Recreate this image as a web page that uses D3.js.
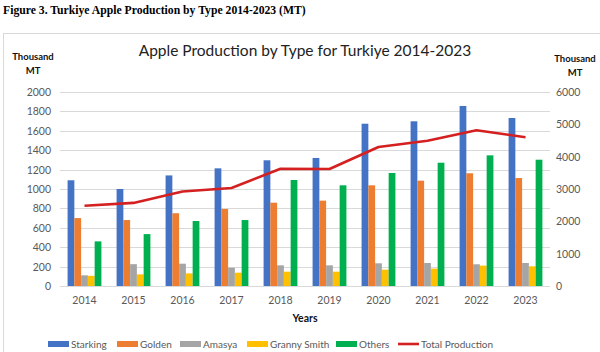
<!DOCTYPE html>
<html>
<head>
<meta charset="utf-8">
<script src="https://cdn.jsdelivr.net/npm/d3@7"></script>
<style>
  body { margin: 0; background: #fff; }
  svg { display: block; }
</style>
</head>
<body>
<div class="charts-div"></div>
<script>
// values in thousand MT
const years = ["2014", "2015", "2016", "2017", "2018", "2019", "2020", "2021", "2022", "2023"];
const types = ["Starking", "Golden", "Amasya", "Granny Smith", "Others"];
const starking = [1090, 1000, 1140, 1213, 1296, 1320, 1673, 1698, 1856, 1732];
const golden = [700, 680, 750, 794, 859, 880, 1038, 1086, 1162, 1113];
const amasya = [110, 225, 230, 189, 213, 213, 234, 237, 224, 237];
const grannySmith = [105, 120, 130, 137, 148, 148, 168, 179, 210, 203];
const others = [460, 535, 670, 680, 1093, 1038, 1165, 1271, 1347, 1302];
const totalProduction = [2480, 2570, 2925, 3030, 3626, 3619, 4300, 4493, 4818, 4600];
const leftTicks = [0, 200, 400, 600, 800, 1000, 1200, 1400, 1600, 1800, 2000];
const rightTicks = [0, 1000, 2000, 3000, 4000, 5000, 6000];

const typeValues = [starking, golden, amasya, grannySmith, others];
const colors = ["#4472C4", "#ED7D31", "#A5A5A5", "#FFC000", "#00B050"];
const lineColor = "#D42020";
const font = "Lato, 'Open Sans', sans-serif";

const W = 600, H = 352;
const plot = { left: 60, right: 550, top: 92, bottom: 286 };

const svg = d3.select(".charts-div").append("svg")
    .attr("width", W).attr("height", H)
    .style("font-family", font);

// figure caption
svg.append("text")
    .attr("x", 3).attr("y", 14)
    .attr("font-family", "'Liberation Serif', 'Times New Roman', serif")
    .attr("font-weight", "bold").attr("font-size", 11.7)
    .text("Figure 3. Turkiye Apple Production by Type 2014-2023 (MT)");

// chart frame
svg.append("rect")
    .attr("x", 3.5).attr("y", 33.5).attr("width", 600).attr("height", 330)
    .attr("fill", "none").attr("stroke", "#d9d9d9");

svg.append("text")
    .attr("x", 305).attr("y", 56).attr("text-anchor", "middle")
    .attr("font-size", 15.5).attr("fill", "#222")
    .text("Apple Production by Type for Turkiye 2014-2023");

const x = d3.scaleBand().domain(years).range([plot.left, plot.right]);
const gap = x.bandwidth() * 0.31;
const x1 = d3.scaleBand().domain(types).range([gap / 2, x.bandwidth() - gap / 2]);
const yL = d3.scaleLinear().domain([0, 2000]).range([plot.bottom, plot.top]);
const yR = d3.scaleLinear().domain([0, 6000]).range([plot.bottom, plot.top]);

// gridlines
svg.append("g").selectAll("line").data(leftTicks).join("line")
    .attr("x1", plot.left).attr("x2", plot.right)
    .attr("y1", d => Math.round(yL(d)) + 0.5).attr("y2", d => Math.round(yL(d)) + 0.5)
    .attr("stroke", "#d9d9d9").attr("stroke-width", 1);

// left axis labels
svg.append("g").selectAll("text").data(leftTicks).join("text")
    .attr("x", 51).attr("y", d => yL(d) + 4)
    .attr("text-anchor", "end").attr("font-size", 10.5).attr("fill", "#595959")
    .text(d => d);

// right axis labels
svg.append("g").selectAll("text").data(rightTicks).join("text")
    .attr("x", 556).attr("y", d => yR(d) + 4)
    .attr("text-anchor", "start").attr("font-size", 10.5).attr("fill", "#595959")
    .text(d => d);

// axis titles
[[33, "Thousand", 60], [33, "MT", 74], [575, "Thousand", 62], [575, "MT", 76]].forEach(([tx, t, ty]) => {
    svg.append("text").attr("x", tx).attr("y", ty).attr("text-anchor", "middle")
        .attr("font-size", 9.5).attr("font-weight", "bold").attr("fill", "#111").text(t);
});

// bars
const groups = svg.append("g").selectAll("g").data(years).join("g")
    .attr("transform", d => `translate(${x(d)},0)`);

groups.selectAll("rect")
    .data((yr, i) => types.map((t, k) => ({ t, k, v: typeValues[k][i] })))
    .join("rect")
    .attr("x", d => x1(d.t))
    .attr("width", x1.bandwidth())
    .attr("y", d => yL(d.v))
    .attr("height", d => yL(0) - yL(d.v))
    .attr("fill", d => colors[d.k]);

// total production line (right axis)
const line = d3.line()
    .x((d, i) => x(years[i]) + x.bandwidth() / 2)
    .y(d => yR(d));

svg.append("path")
    .datum(totalProduction)
    .attr("d", line)
    .attr("fill", "none")
    .attr("stroke", lineColor)
    .attr("stroke-width", 2.6)
    .attr("stroke-linejoin", "round");

// x labels
svg.append("g").selectAll("text").data(years).join("text")
    .attr("x", d => x(d) + x.bandwidth() / 2).attr("y", 304)
    .attr("text-anchor", "middle").attr("font-size", 10.5).attr("fill", "#595959")
    .text(d => d);

svg.append("text")
    .attr("x", 305).attr("y", 322).attr("text-anchor", "middle")
    .attr("font-size", 10.5).attr("font-weight", "bold").attr("fill", "#111")
    .text("Years");

// legend
const legendItems = [
    { name: "Starking", x: 48 },
    { name: "Golden", x: 117 },
    { name: "Amasya", x: 180 },
    { name: "Granny Smith", x: 247 },
    { name: "Others", x: 336 },
    { name: "Total Production", x: 398 }
];
const lg = svg.append("g").selectAll("g").data(legendItems).join("g")
    .attr("transform", d => `translate(${d.x},344)`);

lg.filter((d, i) => i < 5).append("rect")
    .attr("x", 0).attr("y", -3).attr("width", 21).attr("height", 6)
    .attr("fill", (d, i) => colors[i]);

lg.filter((d, i) => i === 5).append("line")
    .attr("x1", 0).attr("x2", 21).attr("y1", 0).attr("y2", 0)
    .attr("stroke", lineColor).attr("stroke-width", 2.6);

lg.append("text")
    .attr("x", 23).attr("y", 3.5)
    .attr("font-size", 10).attr("fill", "#595959")
    .text(d => d.name);
</script>
</body>
</html>
